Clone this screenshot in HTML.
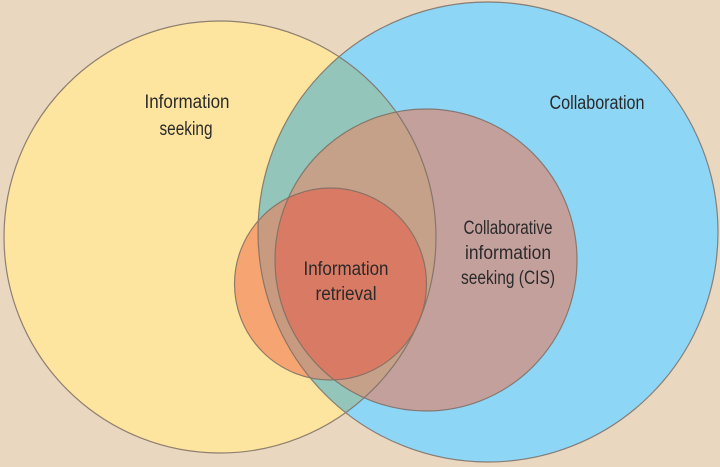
<!DOCTYPE html>
<html><head><meta charset="utf-8"><style>
html,body{margin:0;padding:0;background:#e9d7bf;}
svg{display:block}
text{font-family:"Liberation Sans Narrow","Liberation Sans",sans-serif;font-size:19px;fill:#2a2a2a;text-anchor:middle}
</style></head><body>
<svg width="720" height="467" viewBox="0 0 720 467">
<defs>
<clipPath id="cY"><circle cx="220" cy="237" r="216"/></clipPath>
<clipPath id="cB"><circle cx="488" cy="232" r="230"/></clipPath>
<clipPath id="cP"><circle cx="426" cy="260" r="151"/></clipPath>
</defs>
<rect width="720" height="467" fill="#e9d7bf"/>
<circle cx="220" cy="237" r="216" fill="#fde59f"/>
<circle cx="488" cy="232" r="230" fill="#8ed6f6"/>
<circle cx="488" cy="232" r="230" fill="#93c5bb" clip-path="url(#cY)"/>
<circle cx="426" cy="260" r="151" fill="#c4a09c"/>
<circle cx="426" cy="260" r="151" fill="#c4a188" clip-path="url(#cY)"/>
<circle cx="330.5" cy="284" r="96" fill="#f5a472"/>
<circle cx="330.5" cy="284" r="96" fill="#c89a80" clip-path="url(#cB)"/>
<circle cx="330.5" cy="284" r="96" fill="#d97a64" clip-path="url(#cP)"/>
<g fill="none" stroke="#7d6e64" stroke-width="1.2" opacity="0.85">
<circle cx="220" cy="237" r="216"/>
<circle cx="488" cy="232" r="230"/>
<circle cx="426" cy="260" r="151"/>
<circle cx="330.5" cy="284" r="96"/>
</g>
<text x="187" y="108" textLength="85" lengthAdjust="spacingAndGlyphs">Information</text>
<text x="186" y="135" textLength="53" lengthAdjust="spacingAndGlyphs">seeking</text>
<text x="597" y="109" textLength="95" lengthAdjust="spacingAndGlyphs">Collaboration</text>
<text x="508" y="234" textLength="89" lengthAdjust="spacingAndGlyphs">Collaborative</text>
<text x="508" y="259" textLength="86" lengthAdjust="spacingAndGlyphs">information</text>
<text x="508" y="284" textLength="94" lengthAdjust="spacingAndGlyphs">seeking (CIS)</text>
<text x="346" y="275" textLength="85" lengthAdjust="spacingAndGlyphs">Information</text>
<text x="346" y="300" textLength="61" lengthAdjust="spacingAndGlyphs">retrieval</text>
</svg>
</body></html>
